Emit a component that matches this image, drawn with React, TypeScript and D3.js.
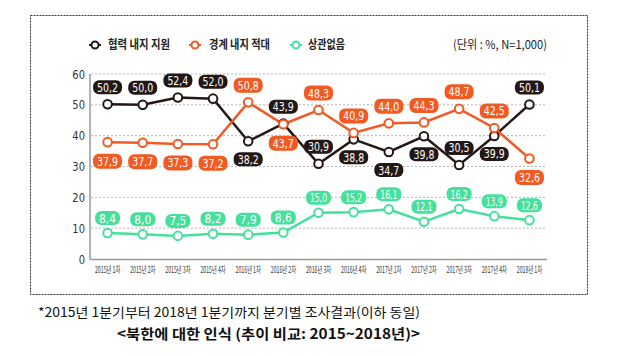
import React from "react";
import * as d3 from "d3";

const categories = ["2015년 1차","2015년 2차","2015년 3차","2015년 4차","2016년 1차","2016년 2차","2016년 3차","2016년 4차","2017년 1차","2017년 2차","2017년 3차","2017년 4차","2018년 1차"];
const coop = [50.2,50.0,52.4,52.0,38.2,43.9,30.9,38.8,34.7,39.8,30.5,39.9,50.1];
const hostile = [37.9,37.7,37.3,37.2,50.8,43.7,48.3,40.9,44.0,44.3,48.7,42.5,32.6];
const none = [8.4,8.0,7.5,8.2,7.9,8.6,15.0,15.2,16.1,12.1,16.2,13.9,12.6];
// label placement: 1 = above, -1 = below
const coopPos = [1,1,1,1,-1,1,1,-1,-1,-1,1,-1,1];
const hostilePos = [-1,-1,-1,-1,1,-1,1,1,1,1,1,1,-1];
const nonePos = [1,1,1,1,1,1,1,1,1,1,1,1,1];
const yTicks = [0,10,20,30,40,50,60];
const seriesNames = ["협력 내지 지원","경계 내지 적대","상관없음"];
const unitLabel = "(단위 : %, N=1,000)";
const footnote = "*2015년 1분기부터 2018년 1분기까지 분기별 조사결과(이하 동일)";
const title = "<북한에 대한 인식 (추이 비교: 2015~2018년)>";

const COLORS = ["#231815", "#f15a22", "#45e09c"];
const NUM_FONT = "'DejaVu Sans Condensed', 'DejaVu Sans', sans-serif";
const KR_FONT = "'Noto Sans CJK KR', sans-serif";

export default function App() {
  const x = d3.scaleBand<string>().domain(categories).range([90, 547]);
  const y = d3.scaleLinear().domain([0, 60]).range([259, 74]);
  const cx = (i: number) => (x(categories[i]) as number) + x.bandwidth() / 2;
  const line = d3.line<number>().x((_, i) => cx(i)).y((d) => y(d));
  const fmt = (v: number) => v.toFixed(1).replace(".", ",");

  const series = [
    { vals: coop, pos: coopPos, color: COLORS[0], bw: 29, bh: 14, up: 17, down: 18 },
    { vals: hostile, pos: hostilePos, color: COLORS[1], bw: 29, bh: 15, up: 17, down: 19 },
    { vals: none, pos: nonePos, color: COLORS[2], bw: 25, bh: 14, up: 15, down: 15 },
  ];

  const legendItems = [
    { x: 95, tx: 108, tw: 62, color: COLORS[0], name: seriesNames[0] },
    { x: 195, tx: 209, tw: 61, color: COLORS[1], name: seriesNames[1] },
    { x: 296, tx: 308, tw: 37, color: COLORS[2], name: seriesNames[2] },
  ];

  return (
    <svg width={617} height={356} style={{ position: "absolute", left: 0, top: 0, background: "#fff" }}>
      <rect x={30.5} y={15.5} width={557} height={279} fill="none" stroke="#333" strokeWidth={1} strokeDasharray="2,1" />

      {/* legend */}
      {legendItems.map((l, i) => (
        <g key={i}>
          <line x1={l.x - 6} x2={l.x + 6} y1={45} y2={45} stroke={l.color} strokeWidth={2} />
          <circle cx={l.x} cy={45} r={3.5} fill="#fff" stroke={l.color} strokeWidth={2} />
          <text x={l.tx} y={49} fontSize={12} fontWeight={700} fontFamily={KR_FONT} fill="#222" textLength={l.tw} lengthAdjust="spacingAndGlyphs">{l.name}</text>
        </g>
      ))}
      <text x={453} y={49} fontSize={12} fontFamily={KR_FONT} fill="#222" textLength={94} lengthAdjust="spacingAndGlyphs">{unitLabel}</text>

      {/* grid */}
      {yTicks.filter((t) => t > 0).map((t) => (
        <line key={t} x1={91} x2={547} y1={y(t)} y2={y(t)} stroke="#b5b5b5" strokeWidth={1} strokeDasharray="2,2" />
      ))}
      {/* axes */}
      <line x1={90} x2={90} y1={74} y2={259.5} stroke="#999" strokeWidth={1.5} />
      <line x1={90} x2={547} y1={259.5} y2={259.5} stroke="#999" strokeWidth={1.5} />
      {yTicks.map((t) => (
        <text key={t} x={0} y={0} textAnchor="end" fontSize={13} fontFamily={NUM_FONT} fill="#333" transform={`translate(85,${y(t) + 4.5}) scale(0.85,1)`}>{t}</text>
      ))}
      {categories.map((c, i) => (
        <text key={c} x={0} y={0} textAnchor="middle" fontSize={9} fontFamily={KR_FONT} fill="#333" transform={`translate(${cx(i)},273) scale(0.58,1)`}>{c}</text>
      ))}

      {/* lines */}
      {series.map((s, si) => (
        <path key={si} d={line(s.vals) as string} fill="none" stroke={s.color} strokeWidth={2.5} />
      ))}
      {series.map((s, si) => (
        <g key={si}>
          {s.vals.map((v, i) => (
            <circle key={i} cx={cx(i)} cy={y(v)} r={4.3} fill="#fff" stroke={s.color} strokeWidth={2} />
          ))}
        </g>
      ))}
      {/* labels */}
      {series.map((s, si) => (
        <g key={si}>
          {s.vals.map((v, i) => {
            const ly = s.pos[i] > 0 ? y(v) - s.up : y(v) + s.down;
            return (
              <g key={i}>
                <rect x={cx(i) - s.bw / 2} y={ly - s.bh / 2} width={s.bw} height={s.bh} rx={6} fill={s.color} />
                <text x={cx(i)} y={ly + 4.5} textAnchor="middle" fontSize={13} fontFamily={NUM_FONT} fill="#fff" textLength={s.bw - 8} lengthAdjust="spacingAndGlyphs">{fmt(v)}</text>
              </g>
            );
          })}
        </g>
      ))}

      <text x={38} y={317} fontSize={13} fontFamily={KR_FONT} fill="#111" textLength={382} lengthAdjust="spacingAndGlyphs">{footnote}</text>
      <text x={117} y={339} fontSize={14} fontWeight={700} fontFamily={KR_FONT} fill="#111" textLength={303} lengthAdjust="spacingAndGlyphs">{title}</text>
    </svg>
  );
}
